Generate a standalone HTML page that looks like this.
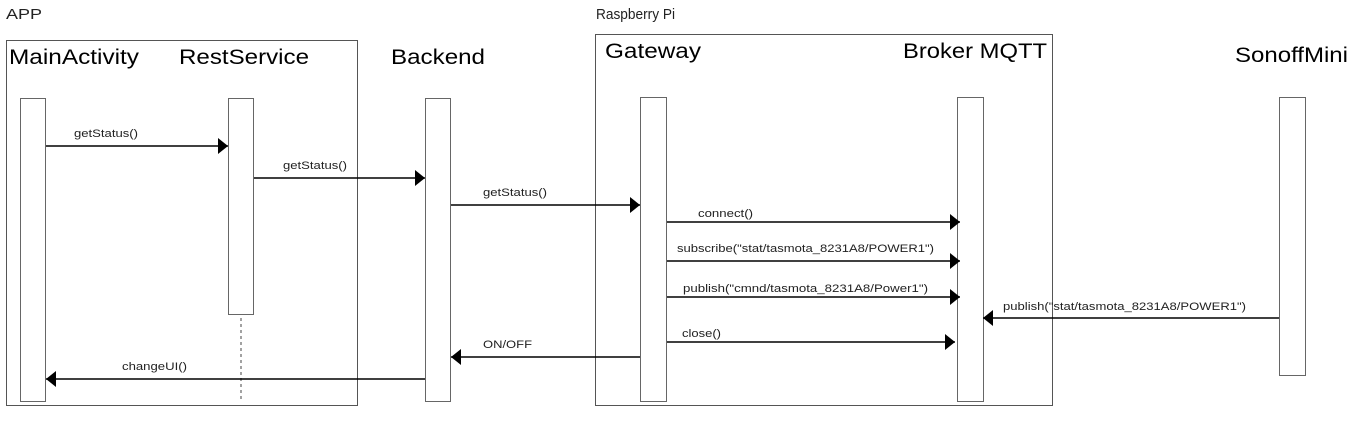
<!DOCTYPE html>
<html><head><meta charset="utf-8"><style>
html,body{margin:0;padding:0;background:#fff;}
svg{display:block;}
text{font-family:"Liberation Sans",Arial,sans-serif;}
</style></head><body>
<svg width="1362" height="421" viewBox="0 0 1362 421" xmlns="http://www.w3.org/2000/svg">
<defs>
<marker id="a" markerWidth="10" markerHeight="16" refX="10" refY="8" orient="auto" markerUnits="userSpaceOnUse">
<path d="M0,0 L10,8 L0,16 Z" fill="#000"/>
</marker>
</defs>
<!-- group labels -->
<text x="6" y="19" font-size="15" fill="#222" textLength="36" lengthAdjust="spacingAndGlyphs">APP</text>
<text x="596" y="19" font-size="15" fill="#222" textLength="79" lengthAdjust="spacingAndGlyphs">Raspberry Pi</text>
<!-- group boxes -->
<rect x="6.5" y="40.5" width="351" height="365" fill="none" stroke="#555" stroke-width="1"/>
<rect x="595.5" y="34.5" width="457" height="371" fill="none" stroke="#555" stroke-width="1"/>
<!-- titles -->
<g font-size="21" fill="#000">
<text x="9" y="64" textLength="130" lengthAdjust="spacingAndGlyphs">MainActivity</text>
<text x="179" y="64" textLength="130" lengthAdjust="spacingAndGlyphs">RestService</text>
<text x="391" y="64" textLength="94" lengthAdjust="spacingAndGlyphs">Backend</text>
<text x="605" y="58" textLength="96" lengthAdjust="spacingAndGlyphs">Gateway</text>
<text x="903" y="58" textLength="144" lengthAdjust="spacingAndGlyphs">Broker MQTT</text>
<text x="1235" y="62" textLength="113" lengthAdjust="spacingAndGlyphs">SonoffMini</text>
</g>
<!-- lifelines -->
<g fill="#fff" stroke="#666" stroke-width="1">
<rect x="20.5" y="98.5" width="25" height="303"/>
<rect x="228.5" y="98.5" width="25" height="216"/>
<rect x="425.5" y="98.5" width="25" height="303"/>
<rect x="640.5" y="97.5" width="26" height="304"/>
<rect x="957.5" y="97.5" width="26" height="304"/>
<rect x="1279.5" y="97.5" width="26" height="278"/>
</g>
<line x1="241" y1="318" x2="241" y2="401" stroke="#444" stroke-width="1" stroke-dasharray="3,3"/>
<!-- arrows -->
<g stroke="#000" stroke-width="1.5" fill="none" marker-end="url(#a)">
<line x1="46" y1="146" x2="228" y2="146"/>
<line x1="254" y1="178" x2="425" y2="178"/>
<line x1="451" y1="205" x2="640" y2="205"/>
<line x1="667" y1="222" x2="960" y2="222"/>
<line x1="667" y1="261" x2="960" y2="261"/>
<line x1="667" y1="297" x2="960" y2="297"/>
<line x1="667" y1="342" x2="955" y2="342"/>
<line x1="1279" y1="318" x2="983" y2="318"/>
<line x1="640" y1="357" x2="451" y2="357"/>
<line x1="425" y1="379" x2="46" y2="379"/>
</g>
<!-- labels -->
<g font-size="11" fill="#222">
<text x="74" y="137" textLength="64" lengthAdjust="spacingAndGlyphs">getStatus()</text>
<text x="283" y="169" textLength="64" lengthAdjust="spacingAndGlyphs">getStatus()</text>
<text x="483" y="196" textLength="64" lengthAdjust="spacingAndGlyphs">getStatus()</text>
<text x="698" y="217" textLength="55" lengthAdjust="spacingAndGlyphs">connect()</text>
<text x="677" y="252" textLength="257" lengthAdjust="spacingAndGlyphs">subscribe("stat/tasmota_8231A8/POWER1")</text>
<text x="683" y="292" textLength="245" lengthAdjust="spacingAndGlyphs">publish("cmnd/tasmota_8231A8/Power1")</text>
<text x="682" y="337" textLength="39" lengthAdjust="spacingAndGlyphs">close()</text>
<text x="1003" y="310" textLength="243" lengthAdjust="spacingAndGlyphs">publish("stat/tasmota_8231A8/POWER1")</text>
<text x="483" y="348" textLength="49" lengthAdjust="spacingAndGlyphs">ON/OFF</text>
<text x="122" y="370" textLength="65" lengthAdjust="spacingAndGlyphs">changeUI()</text>
</g>
</svg>
</body></html>
